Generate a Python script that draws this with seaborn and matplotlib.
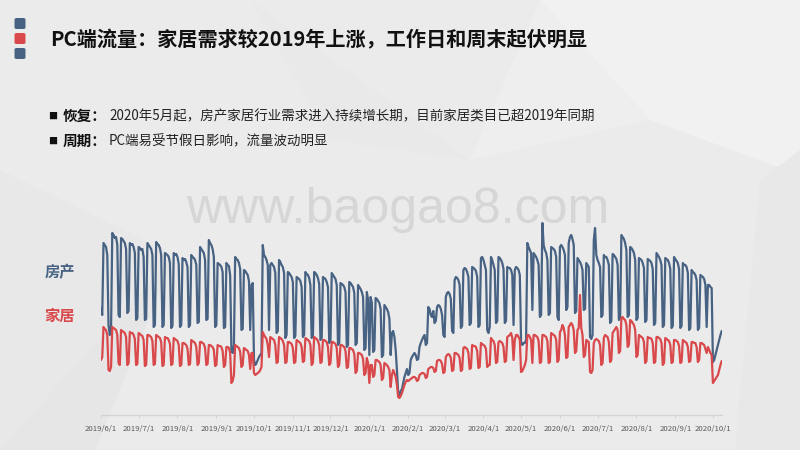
import numpy as np
import pandas as pd
import matplotlib
matplotlib.use("Agg")
import matplotlib.pyplot as plt
import matplotlib.dates as mdates
from matplotlib.patches import Polygon, FancyBboxPatch
import seaborn as sns

# ---------------- data (daily PC traffic index, 2019-06-01 .. 2020-10-08) ----------------
start_date = "2019-06-01"
series_names = ["房产", "家居"]
title = "PC端流量：家居需求较2019年上涨，工作日和周末起伏明显"
bullets = [("恢复：", "2020年5月起，房产家居行业需求进入持续增长期，目前家居类目已超2019年同期"),
           ("周期：", "PC端易受节假日影响，流量波动明显")]
tick_dates = ["2019-06-01", "2019-07-01", "2019-08-01", "2019-09-01", "2019-10-01", "2019-11-01",
              "2019-12-01", "2020-01-01", "2020-02-01", "2020-03-01", "2020-04-01", "2020-05-01",
              "2020-06-01", "2020-07-01", "2020-08-01", "2020-09-01", "2020-10-01"]

# 房产 — first two values are Sat/Sun, then one row per week (Mon..Sun)
house_weeks = [
    [107, 100],
    [172, 170, 168, 160, 90, 80, 84], [182, 180, 177, 178, 170, 100, 98],
    [177, 176, 174, 172, 166, 102, 104], [172, 170, 171, 168, 162, 95, 97],
    [168, 167, 165, 166, 158, 95, 96], [172, 170, 168, 166, 160, 88, 90],
    [173, 171, 170, 167, 160, 88, 90], [162, 161, 160, 158, 152, 87, 89],
    [162, 160, 161, 158, 151, 88, 90], [157, 155, 156, 153, 148, 88, 90],
    [160, 158, 157, 155, 150, 92, 93], [168, 166, 164, 162, 155, 95, 96],
    [175, 172, 170, 166, 158, 88, 90], [152, 151, 150, 148, 143, 87, 88],
    [152, 150, 149, 140, 65, 62, 70], [158, 156, 155, 152, 146, 85, 86],
    [145, 144, 142, 140, 134, 85, 130], [132, 55, 50, 52, 55, 58, 60],
    [62, 170, 160, 158, 155, 150, 85], [150, 152, 150, 148, 142, 82, 84],
    [155, 153, 150, 148, 142, 77, 80], [143, 142, 140, 138, 133, 77, 79],
    [138, 137, 136, 134, 128, 78, 80], [143, 141, 140, 137, 130, 77, 79],
    [143, 142, 140, 137, 131, 75, 77], [138, 137, 136, 133, 128, 72, 74],
    [142, 140, 138, 136, 130, 70, 72], [132, 131, 130, 128, 123, 68, 70],
    [133, 132, 130, 128, 122, 70, 72], [130, 128, 126, 123, 118, 65, 67],
    [123, 115, 60, 118, 112, 63, 65], [117, 116, 114, 112, 106, 58, 60],
    [110, 108, 106, 103, 96, 60, 82], [84, 78, 65, 45, 22, 20, 24],
    [26, 32, 38, 42, 46, 40, 42], [55, 58, 60, 62, 60, 55, 56],
    [68, 72, 75, 78, 80, 70, 72], [108, 106, 100, 98, 104, 92, 94],
    [108, 110, 109, 106, 100, 80, 78], [118, 122, 123, 121, 116, 84, 82],
    [135, 138, 137, 135, 130, 87, 89], [145, 147, 146, 143, 138, 90, 92],
    [148, 147, 146, 144, 138, 88, 90], [157, 158, 155, 150, 145, 85, 82],
    [88, 158, 155, 150, 145, 92, 94], [158, 157, 155, 152, 146, 92, 94],
    [148, 147, 147, 145, 140, 90, 145], [148, 147, 145, 140, 73, 70, 72],
    [72, 75, 172, 168, 165, 162, 105], [162, 160, 158, 155, 150, 98, 100],
    [192, 170, 165, 162, 155, 100, 102], [168, 167, 166, 164, 158, 98, 95],
    [168, 170, 168, 165, 160, 105, 108], [172, 178, 180, 176, 170, 102, 104],
    [157, 155, 153, 150, 145, 105, 106], [152, 150, 148, 78, 76, 80, 175],
    [187, 160, 155, 152, 148, 98, 100], [160, 158, 158, 155, 150, 92, 94],
    [161, 160, 158, 156, 150, 95, 97], [180, 178, 176, 172, 165, 98, 100],
    [168, 167, 165, 162, 155, 95, 97], [157, 156, 155, 152, 147, 93, 95],
    [156, 155, 154, 152, 146, 90, 92], [162, 160, 158, 155, 150, 88, 90],
    [157, 156, 155, 152, 146, 87, 89], [158, 156, 154, 152, 146, 87, 89],
    [152, 150, 150, 148, 142, 85, 87], [145, 143, 142, 140, 135, 85, 87],
    [140, 139, 138, 136, 130, 88, 130], [130, 128, 127, 53, 55, 60, 65],
    [70, 75, 80, 84],
]

# 家居
home_weeks = [
    [55, 58],
    [88, 86, 85, 80, 45, 44, 48], [88, 87, 86, 85, 80, 52, 50],
    [85, 84, 83, 82, 78, 50, 52], [83, 82, 82, 80, 76, 50, 51],
    [82, 81, 80, 79, 75, 49, 50], [80, 80, 79, 78, 74, 50, 51],
    [80, 79, 78, 77, 73, 49, 50], [78, 77, 77, 75, 71, 50, 51],
    [77, 76, 75, 74, 70, 49, 50], [72, 72, 71, 70, 66, 50, 51],
    [75, 74, 73, 72, 68, 50, 52], [73, 73, 72, 71, 67, 50, 51],
    [70, 70, 69, 68, 65, 49, 50], [70, 69, 69, 68, 64, 48, 50],
    [68, 68, 67, 62, 32, 34, 40], [70, 69, 68, 67, 63, 48, 50],
    [67, 66, 65, 64, 60, 46, 62], [62, 42, 40, 41, 42, 43, 45],
    [48, 83, 80, 78, 76, 70, 58], [78, 77, 76, 75, 70, 52, 53],
    [78, 77, 76, 74, 70, 52, 53], [73, 73, 72, 71, 67, 52, 53],
    [75, 74, 73, 72, 68, 53, 54], [77, 76, 75, 74, 70, 50, 52],
    [78, 77, 76, 74, 70, 52, 53], [75, 75, 74, 73, 68, 50, 52],
    [73, 73, 72, 71, 67, 48, 50], [70, 70, 69, 68, 64, 47, 48],
    [67, 67, 66, 65, 61, 42, 44], [62, 62, 61, 60, 56, 40, 42],
    [57, 52, 32, 50, 50, 38, 40], [55, 55, 54, 53, 50, 35, 37],
    [52, 51, 50, 48, 45, 28, 40], [45, 42, 38, 30, 18, 17, 19],
    [22, 26, 30, 33, 35, 34, 35], [36, 37, 38, 38, 37, 34, 35],
    [40, 41, 42, 42, 41, 37, 38], [46, 47, 48, 48, 47, 43, 44],
    [54, 55, 55, 54, 51, 42, 43], [58, 60, 61, 60, 57, 44, 45],
    [62, 62, 61, 60, 57, 44, 45], [67, 68, 67, 66, 62, 46, 47],
    [70, 69, 69, 68, 64, 47, 48], [72, 71, 70, 69, 66, 48, 50],
    [50, 77, 75, 74, 70, 52, 53], [73, 74, 73, 72, 68, 53, 54],
    [78, 79, 80, 82, 77, 55, 75], [80, 80, 78, 75, 43, 44, 47],
    [50, 55, 80, 80, 78, 75, 52], [80, 80, 79, 78, 74, 52, 53],
    [80, 80, 79, 78, 74, 52, 53], [82, 81, 80, 79, 75, 53, 55],
    [83, 85, 90, 87, 80, 57, 58], [88, 90, 92, 90, 85, 62, 64],
    [85, 87, 120, 87, 80, 58, 60], [75, 74, 73, 43, 42, 45, 72],
    [75, 76, 75, 74, 70, 50, 52], [77, 80, 79, 78, 73, 53, 55],
    [82, 84, 86, 88, 85, 62, 64], [97, 98, 96, 95, 90, 68, 70],
    [95, 94, 92, 90, 85, 58, 60], [80, 79, 78, 77, 73, 52, 54],
    [78, 77, 77, 76, 72, 52, 53], [78, 78, 77, 76, 72, 50, 52],
    [77, 76, 75, 74, 70, 52, 53], [75, 75, 74, 73, 69, 52, 53],
    [75, 74, 73, 72, 68, 53, 54], [73, 73, 72, 72, 68, 53, 55],
    [72, 72, 71, 70, 66, 62, 68], [65, 62, 60, 32, 34, 36, 38],
    [40, 45, 50, 54],
]

house = [v for w in house_weeks for v in w]
home = [v for w in home_weeks for v in w]
dates = pd.date_range(start_date, periods=len(house), freq="D")

df = pd.DataFrame({
    "date": list(dates) * 2,
    "value": house + home,
    "series": [series_names[0]] * len(house) + [series_names[1]] * len(home),
})

# ---------------- style ----------------
BLUE = "#476282"
RED = "#d9484b"
BG = "#ebebeb"

sns.set_theme(style="white")
plt.rcParams["font.family"] = ["Noto Sans CJK SC", "DejaVu Sans"]

W, H = 800, 450
fig = plt.figure(figsize=(8, 4.5), dpi=100)
fig.patch.set_facecolor(BG)

def fx(x):
    return x / W

def fy(y):
    return 1 - y / H

# faint low-poly background facets
facets = [
    ([(540, 0), (800, 0), (800, 175), (650, 120)], "#f1f1f1"),
    ([(540, 0), (650, 120), (470, 160)], "#eeeeee"),
    ([(0, 170), (175, 255), (0, 450)], "#e8e8e8"),
    ([(175, 255), (95, 450), (0, 450)], "#e6e6e6"),
    ([(760, 180), (800, 150), (800, 450), (735, 450)], "#e8e8e8"),
    ([(250, 0), (470, 160), (330, 140)], "#e9e9e9"),
]
for pts, col in facets:
    fig.patches.append(Polygon([(fx(x), fy(y)) for x, y in pts], closed=True,
                               transform=fig.transFigure, facecolor=col,
                               edgecolor="none", zorder=-10))

# watermark
fig.text(fx(398), fy(210), "www.baogao8.com", family="Liberation Sans", fontsize=36,
         color="#d6d6d6", ha="center", va="center", zorder=-5)

# decorative squares
for cy, col in [(23.5, BLUE), (38.5, RED), (53.5, BLUE)]:
    fig.patches.append(FancyBboxPatch((fx(14.5), fy(cy + 5.5)), fx(11), 11 / H,
                                      boxstyle="round,pad=0,rounding_size=0.003",
                                      transform=fig.transFigure, facecolor=col,
                                      edgecolor="none"))

# title
fig.text(fx(50), fy(40), title, fontsize=14.5, fontweight="bold", color="#111111",
         ha="left", va="center")

# bullet lines
for (bold_part, rest), cy in zip(bullets, [116, 141]):
    fig.text(fx(48.5), fy(cy), "■", fontsize=6.5, color="#111111", ha="left", va="center")
    fig.text(fx(63), fy(cy), bold_part, fontsize=10.5, fontweight="bold", color="#111111",
             ha="left", va="center")
    fig.text(fx(109), fy(cy), rest, fontsize=9.7, color="#222222", ha="left", va="center")

# series labels
fig.text(fx(60), fy(272), series_names[0], fontsize=11, fontweight="bold", color=BLUE,
         ha="center", va="center")
fig.text(fx(60), fy(316), series_names[1], fontsize=11, fontweight="bold", color=RED,
         ha="center", va="center")

# ---------------- chart ----------------
ax = fig.add_axes([fx(101), fy(415), (721.7 - 101) / W, 200 / H])
ax.set_facecolor("none")
sns.lineplot(data=df, x="date", y="value", hue="series",
             palette={series_names[0]: BLUE, series_names[1]: RED},
             linewidth=1.6, legend=False, ax=ax)
ax.set_xlim(dates[0], dates[-1])
ax.set_ylim(0, 200)
ax.set_xlabel("")
ax.set_ylabel("")
ax.set_yticks([])
for s in ["top", "right", "left"]:
    ax.spines[s].set_visible(False)
ax.spines["bottom"].set_color("#d3d3d3")
ax.spines["bottom"].set_linewidth(0.9)

ticks = pd.to_datetime(tick_dates)
ax.set_xticks(ticks)
ax.set_xticklabels([f"{d.year}/{d.month}/{d.day}" for d in ticks],
                   fontsize=5.6, color="#5a5a5a")
ax.tick_params(axis="x", length=2.5, width=0.7, color="#d3d3d3", pad=5, bottom=True)

fig.savefig("out.png", dpi=100, facecolor=fig.get_facecolor())
